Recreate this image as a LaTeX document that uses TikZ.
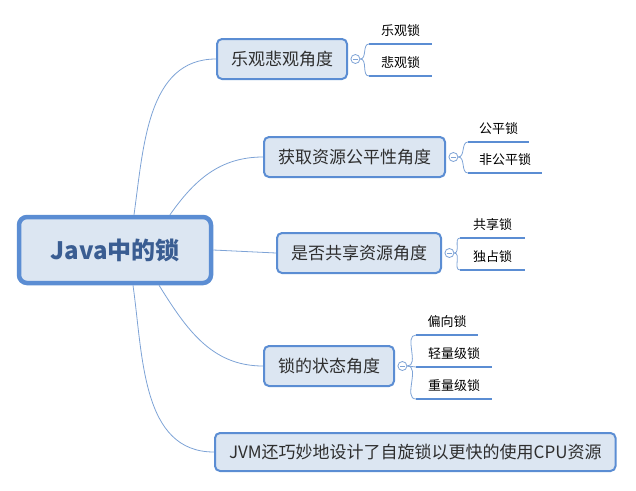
\documentclass[tikz,border=0pt]{standalone}
\usepackage{fontspec}
\setmainfont{Noto Sans CJK SC}
\usepackage{tikz}
\usetikzlibrary{positioning}
\definecolor{lockline}{HTML}{5B8DD3}
\definecolor{lockwire}{HTML}{7EA3D6}
\definecolor{lockfill}{HTML}{DCE6F2}
\definecolor{locktitle}{HTML}{3A5D92}
\definecolor{locktext}{HTML}{2E2E2E}

\tikzset{
  rootbox/.style={draw=lockline, line width=4.5pt, fill=lockfill, rounded corners=8pt, minimum width=192pt, minimum height=66pt, font=\fontsize{24}{28}\selectfont\bfseries, text=locktitle},
  anglebox/.style={draw=lockline, line width=2pt, fill=lockfill, rounded corners=5pt, minimum height=40pt, inner xsep=14pt, font=\fontsize{17}{20}\selectfont, text=locktext, anchor=west},
  fold/.style={circle, draw=lockwire, fill=white, line width=0.8pt, minimum size=9pt, inner sep=0pt,
    path picture={\draw[lockwire, line width=0.7pt] ([xshift=-2.2pt]path picture bounding box.center) -- ([xshift=2.2pt]path picture bounding box.center);}},
  leaf/.style={anchor=south west, inner xsep=0pt, inner ysep=7pt, font=\fontsize{13}{15}\selectfont},
  wire/.style={draw=lockwire, line width=0.8pt},
  leafline/.style={draw=lockline, line width=2.6pt},
}

\begin{document}
\begin{tikzpicture}[x=1pt, y=1pt]
  \useasboundingbox (0,0) rectangle (636,-490);

  % centre
  \node[rootbox] (root) at (115,-250) {Java中的锁};

  % the five angles
  \node[anglebox] (b1) at (216,-59) {乐观悲观角度};
  \node[anglebox] (b2) at (263,-157) {获取资源公平性角度};
  \node[anglebox] (b3) at (276,-253) {是否共享资源角度};
  \node[anglebox] (b4) at (263,-366) {锁的状态角度};
  \node[anglebox, minimum height=38pt] (b5) at (214,-452) {JVM还巧妙地设计了自旋锁以更快的使用CPU资源};

  \draw[wire] ([xshift=19pt]root.north) to[out=82,in=180] (b1.west);
  \draw[wire] ([xshift=55pt]root.north) to[out=55,in=180] (b2.west);
  \draw[wire] (root.east) -- (b3.west);
  \draw[wire] ([xshift=44pt]root.south) to[out=-58,in=180] (b4.west);
  \draw[wire] ([xshift=18pt]root.south) to[out=-82,in=180] (b5.west);

  % fold markers
  \foreach \b in {b1,b2,b3,b4}
    \node[fold, right=2.5pt of \b] (f\b) {};

  % leaves
  \node[leaf, minimum width=63pt] (l11) at (369,-44) {乐观锁};
  \node[leaf, minimum width=63pt] (l12) at (369,-76) {悲观锁};
  \node[leaf, minimum width=61pt] (l21) at (468,-142) {公平锁};
  \node[leaf, minimum width=74pt] (l22) at (468,-173) {非公平锁};
  \node[leaf, minimum width=65pt] (l31) at (460,-238) {共享锁};
  \node[leaf, minimum width=65pt] (l32) at (460,-270) {独占锁};
  \node[leaf, minimum width=62pt] (l41) at (416,-335) {偏向锁};
  \node[leaf, minimum width=76pt] (l42) at (416,-367) {轻量级锁};
  \node[leaf, minimum width=76pt] (l43) at (416,-399) {重量级锁};

  \foreach \l in {l11,l12,l21,l22,l31,l32,l41,l42,l43}
    \draw[leafline] (\l.south west) -- (\l.south east);

  \foreach \f/\l in {fb1/l11,fb1/l12,fb2/l21,fb2/l22,fb3/l31,fb3/l32,fb4/l41,fb4/l42,fb4/l43}
    \draw[wire] (\f.east) to[out=0,in=180] (\l.south west);
\end{tikzpicture}
\end{document}
